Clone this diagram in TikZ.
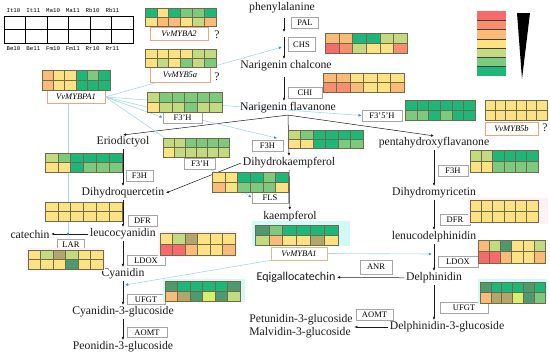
\documentclass[tikz,border=0pt]{standalone}
\usepackage{fontspec}
\setmainfont{Liberation Serif}
\newfontfamily\calfont{Carlito}
\newfontfamily\tagfont{Liberation Mono}
\usetikzlibrary{arrows.meta,calc,backgrounds}
\definecolor{ink}{HTML}{1A1A1A}
\definecolor{boxline}{HTML}{A6A6A6}
\definecolor{geneline}{HTML}{F4A27E}
\definecolor{geneline2}{HTML}{D8BC8E}
\definecolor{regline}{HTML}{A8D5EC}
\definecolor{regtip}{HTML}{4A86C8}
\definecolor{cellline}{HTML}{6E6A4C}
\definecolor{glowcyan}{HTML}{D2F8F8}
\definecolor{glowpink}{HTML}{FDF1F5}
% heat scale
\definecolor{cR}{HTML}{F8696B}
\definecolor{cS}{HTML}{F98E6F}
\definecolor{cO}{HTML}{FBBB78}
\definecolor{cY}{HTML}{FCE283}
\definecolor{cL}{HTML}{C4DA80}
\definecolor{cG}{HTML}{7DC97D}
\definecolor{cD}{HTML}{1DB879}
\definecolor{cM}{HTML}{4E9A6E}
\definecolor{cV}{HTML}{B3A66B}
\definecolor{cN}{HTML}{D6F06C}
\newcommand{\cmpdfont}{\fontsize{11.7}{13}\selectfont}
\newcommand{\lblfont}{\fontsize{8.5}{10}\selectfont}
% x, y, cell width, row height, top row, bottom row
\newcommand{\heatmap}[6]{%
  \foreach \hc [count=\hi from 0] in {#5}
    \filldraw[fill=\hc, draw=cellline, line width=0.35pt] ({#1+\hi*#3},{#2}) rectangle ++(#3,#4);
  \foreach \hc [count=\hi from 0] in {#6}
    \filldraw[fill=\hc, draw=cellline, line width=0.35pt] ({#1+\hi*#3},{#2+#4}) rectangle ++(#3,#4);
}
\tikzset{
  cmpd/.style={font=\cmpdfont, inner sep=1.5pt, text=ink},
  lbl/.style={draw=boxline, fill=white, font=\lblfont, minimum height=11pt, minimum width=27pt, inner sep=2pt, line width=0.6pt},
  gene/.style={draw=geneline, fill=white, font=\lblfont\itshape, minimum height=13pt, minimum width=58pt, inner sep=2pt, line width=0.7pt},
  flow/.style={-{Latex[length=3pt,width=2.6pt]}, draw=ink, line width=0.5pt},
  reg/.style={-{Latex[length=3.2pt,width=2.8pt,color=regtip]}, draw=regline, line width=0.6pt},
  tag/.style={font=\tagfont\fontsize{5.8}{6}\selectfont, inner sep=0pt},
}

\begin{document}
\begin{tikzpicture}[x=1pt, y=-1pt]
\useasboundingbox (0,0) rectangle (550,354);
% sample grid
\draw[line width=0.6pt] (4,16) rectangle (133,43) (4,29.5) -- (133,29.5);
\foreach \i in {1,...,5} \draw[line width=0.6pt] ({4+\i*21.5},16) -- ++(0,27);
\foreach \t [count=\i from 0] in {It10,It11,Ma10,Ma11,Rb10,Rb11}
  \node[tag] (top\i) at ({13.5+\i*19.8},10.5) {\t};
\foreach \t [count=\i from 0] in {Be10,Be11,Fm10,Fm11,Rr10,Rr11}
  \node[tag] (bot\i) at ({13.5+\i*19.8},49) {\t};
% colour scale
\foreach \bc [count=\bi from 0] in {cR,cS,cO,cY,cL,cG,cD}
  \fill[\bc] (477,{11+\bi*9.3}) rectangle ++(29,9.3);
\foreach \bi in {1,...,6} \draw[black!75, line width=0.7pt] (477,{11+\bi*9.3}) -- ++(29,0);
\fill[black] (517,13) -- (530,13) -- (522,79) -- cycle;

% compounds
\node[cmpd] (phe) at (282,8) {phenylalanine};
\node[cmpd] (nchal) at (286,66) {Narigenin chalcone};
\node[cmpd] (nflav) at (288,108) {Narigenin flavanone};
\node[cmpd] (erio) at (123,142) {Eriodictyol};
\node[cmpd] (dhk) at (289,163) {Dihydrokaempferol};
\node[cmpd] (penta) at (434,143) {pentahydroxyflavanone};
\node[cmpd] (dhq) at (123,193) {Dihydroquercetin};
\node[cmpd] (dhm) at (434,193) {Dihydromyricetin};
\node[cmpd] (kaem) at (290,217) {kaempferol};
\node[cmpd] (leuco) at (123,234) {leucocyanidin};
\node[cmpd] (cat) at (30,234) {catechin};
\node[cmpd] (lenu) at (434,237) {lenucodelphinidin};
\node[cmpd] (cya) at (123,274) {Cyanidin};
\node[cmpd] (del) at (434,278) {Delphinidin};
\node[cmpd, font=\calfont\fontsize{12}{13}\selectfont] (egc) at (296,277) {Eqigallocatechin};
\node[cmpd] (c3g) at (123,312) {Cyanidin-3-glucoside};
\node[cmpd] (pn3g) at (123,347) {Peonidin-3-glucoside};
\node[cmpd] (d3g) at (447,327) {Delphinidin-3-glucoside};
\node[cmpd, align=left] (pm3g) at (301,326) {Petunidin-3-glucoside\\Malvidin-3-glucoside};

% enzymes
\node[lbl] (pal) at (305,22.5) {PAL};
\node[lbl, minimum height=14pt] (chs) at (301.5,44.5) {CHS};
\node[lbl, minimum width=34pt] (chi) at (305,92.5) {CHI};
\node[lbl, minimum width=39pt] (f3ph1) at (182.5,117.5) {F3'H};
\node[lbl, minimum width=40pt] (f35h) at (382,115.5) {F3'5'H};
\node[lbl, minimum width=31pt] (f3hm) at (267.5,146) {F3H};
\node[lbl, minimum width=31pt] (f3ph2) at (200,163.5) {F3'H};
\node[lbl, minimum width=30pt] (f3hr) at (453,171) {F3H};
\node[lbl] (f3hl) at (139.5,176) {F3H};
\node[lbl, minimum width=36pt] (fls) at (270,197.5) {FLS};
\node[lbl, minimum width=29pt] (dfrl) at (142.5,221) {DFR};
\node[lbl, minimum width=30pt] (dfrr) at (455,220) {DFR};
\node[lbl] (lar) at (71,244.5) {LAR};
\node[lbl, minimum width=38pt, minimum height=10pt] (ldoxl) at (146,260.5) {LDOX};
\node[lbl, minimum width=40pt] (ldoxr) at (458,262) {LDOX};
\node[lbl, minimum width=32pt, minimum height=14pt] (anr) at (376,267) {ANR};
\node[lbl, minimum width=38pt, minimum height=10pt] (ufgtl) at (146,299.5) {UFGT};
\node[lbl, minimum width=48pt] (ufgtr) at (464,307.5) {UFGT};
\node[lbl, minimum width=40pt, minimum height=10pt] (aomtl) at (147,332.5) {AOMT};
\node[lbl, minimum width=37pt] (aomtr) at (374.5,315) {AOMT};

% regulators
\node[gene] (myba2) at (179,33.5) {VvMYBA2};
\node[gene, minimum width=60pt, minimum height=15pt] (myb5a) at (180,74.5) {VvMYB5a};
\node[gene] (mybpa1) at (76,97) {VvMYBPA1};
\node[gene, minimum width=53pt] (myb5b) at (511.5,128.5) {VvMYB5b};
\node[gene, draw=geneline2, minimum width=56pt] (myba1) at (299,253.5) {VvMYBA1};
\node[cmpd] (q1) at (217,35) {?};
\node[cmpd] (q2) at (217,77) {?};
\node[cmpd] (q3) at (545,128) {?};

% end points on arrows
\coordinate (pa) at (284,32);
\coordinate (pb) at (284,37);
\coordinate (chsin) at (282,47);
\coordinate (larin) at (68,236);
\coordinate (ufgtin) at (125,285);
\coordinate (ldoxin) at (432,254);

\begin{scope}[on background layer]
\draw[flow, shorten <=3pt] (phe.south -| pa) -- (pa);
\draw[flow] (pb) -- (nchal.north -| pb);
\draw[flow, shorten <=4pt] (nchal.south -| pb) -- (nflav.north -| pb);
\draw[flow] (nflav.south) -- (erio.north);
\draw[flow] (nflav.south) -- (penta.north);
\draw[flow] (nflav.south) -- (dhk.north);
\draw[flow] (erio) -- (dhq);
\draw[flow] (dhk.west) -- (dhq.east);
\draw[flow] (dhk) -- (kaem);
\draw[flow] (penta) -- (dhm);
\draw[flow] (dhq) -- (leuco);
\draw[flow] (dhm) -- (lenu);
\draw[flow] (leuco) -- (cat);
\draw[flow] (leuco) -- (cya);
\draw[flow] (lenu) -- (del);
\draw[flow] (del) -- (egc);
\draw[flow] (cya) -- (c3g);
\draw[flow] (del.south) -- (del.south |- d3g.north);
\draw[flow] (c3g) -- (pn3g);
\draw[flow] (d3g.west) -- (pm3g.east |- d3g.west);
% regulation
\draw[reg] (mybpa1.east) -- (chsin);
\draw[reg] (mybpa1.east) -- (f3ph1.west);
\draw[reg] (mybpa1.east) -- ($(f3hm.north east)+(-6,-2)$);
\draw[reg] (mybpa1.east) -- (f35h.west);
\draw[reg] (mybpa1.east) -- (fls.west);
\draw[reg] (mybpa1.south -| larin) -- (larin);
\draw[reg] (myba1.south west) -- (ufgtin);
\draw[reg] (myba1.east) -- (ldoxin);
\end{scope}

% glows
\fill[glowcyan] (252,221) rectangle (350,246);
\fill[glowcyan] (163,279) rectangle (245,302);
\fill[glowcyan] (478,279) rectangle (547,304);
\fill[glowpink] (468,198) rectangle (548,224);
\fill[glowpink] (158,231) rectangle (237,257);
\fill[glowpink] (26,248) rectangle (105,271);
% expression heatmaps
\heatmap{145}{8}{11.8}{9}{cD,cY,cD,cG,cG,cD}{cY,cO,cO,cY,cL,cO}
\heatmap{145}{49}{11.8}{9}{cY,cY,cY,cY,cL,cL}{cY,cL,cY,cG,cL,cG}
\heatmap{42}{70}{11.3}{10}{cO,cY,cY,cD,cG,cD}{cO,cY,cY,cD,cD,cD}
\heatmap{325}{33}{13.7}{10}{cO,cO,cD,cD,cL,cL}{cR,cS,cL,cY,cY,cS}
\heatmap{323}{73}{13.5}{9.5}{cO,cO,cY,cY,cY,cY}{cS,cS,cO,cY,cY,cO}
\heatmap{147}{92}{12.5}{10}{cL,cG,cG,cG,cG,cG}{cY,cL,cL,cG,cL,cL}
\heatmap{405}{100}{11.7}{10}{cD,cD,cD,cD,cD,cD}{cG,cG,cD,cG,cD,cD}
\heatmap{485}{100}{10.3}{10}{cY,cY,cY,cY,cY,cY}{cY,cY,cY,cY,cY,cY}
\heatmap{470}{150}{11.3}{11}{cL,cL,cD,cD,cD,cD}{cY,cY,cG,cG,cG,cG}
\heatmap{288}{130}{12.5}{9}{cL,cG,cD,cD,cD,cD}{cY,cY,cD,cD,cG,cG}
\heatmap{163}{138}{11}{9.5}{cL,cL,cG,cG,cG,cG}{cY,cL,cL,cL,cL,cL}
\heatmap{212}{172}{12.7}{10}{cY,cY,cD,cD,cG,cD}{cO,cY,cG,cG,cG,cY}
\heatmap{45}{153}{12.8}{9.5}{cL,cG,cD,cD,cD,cD}{cY,cY,cD,cG,cG,cG}
\heatmap{45}{202}{12.8}{9.5}{cY,cY,cY,cY,cY,cY}{cY,cY,cY,cY,cY,cY}
\heatmap{470}{200}{11.3}{11}{cY,cY,cY,cY,cY,cY}{cY,cY,cY,cY,cY,cY}
\heatmap{160}{233}{12.5}{11}{cY,cL,cV,cY,cY,cY}{cR,cR,cO,cY,cY,cO}
\heatmap{28}{250}{12.5}{9.5}{cY,cL,cV,cL,cY,cY}{cY,cY,cY,cM,cY,cY}
\heatmap{255}{225}{13.8}{10}{cM,cG,cD,cD,cD,cD}{cL,cO,cY,cY,cV,cY}
\heatmap{478}{240}{11.2}{11.5}{cO,cL,cM,cY,cY,cL}{cR,cR,cO,cY,cY,cO}
\heatmap{165}{281}{12.5}{10}{cM,cD,cD,cD,cD,cM}{cO,cV,cM,cN,cM,cL}
\heatmap{480}{282}{10.8}{10.5}{cM,cD,cD,cD,cM,cD}{cO,cV,cV,cN,cM,cG}
\end{tikzpicture}
\end{document}
